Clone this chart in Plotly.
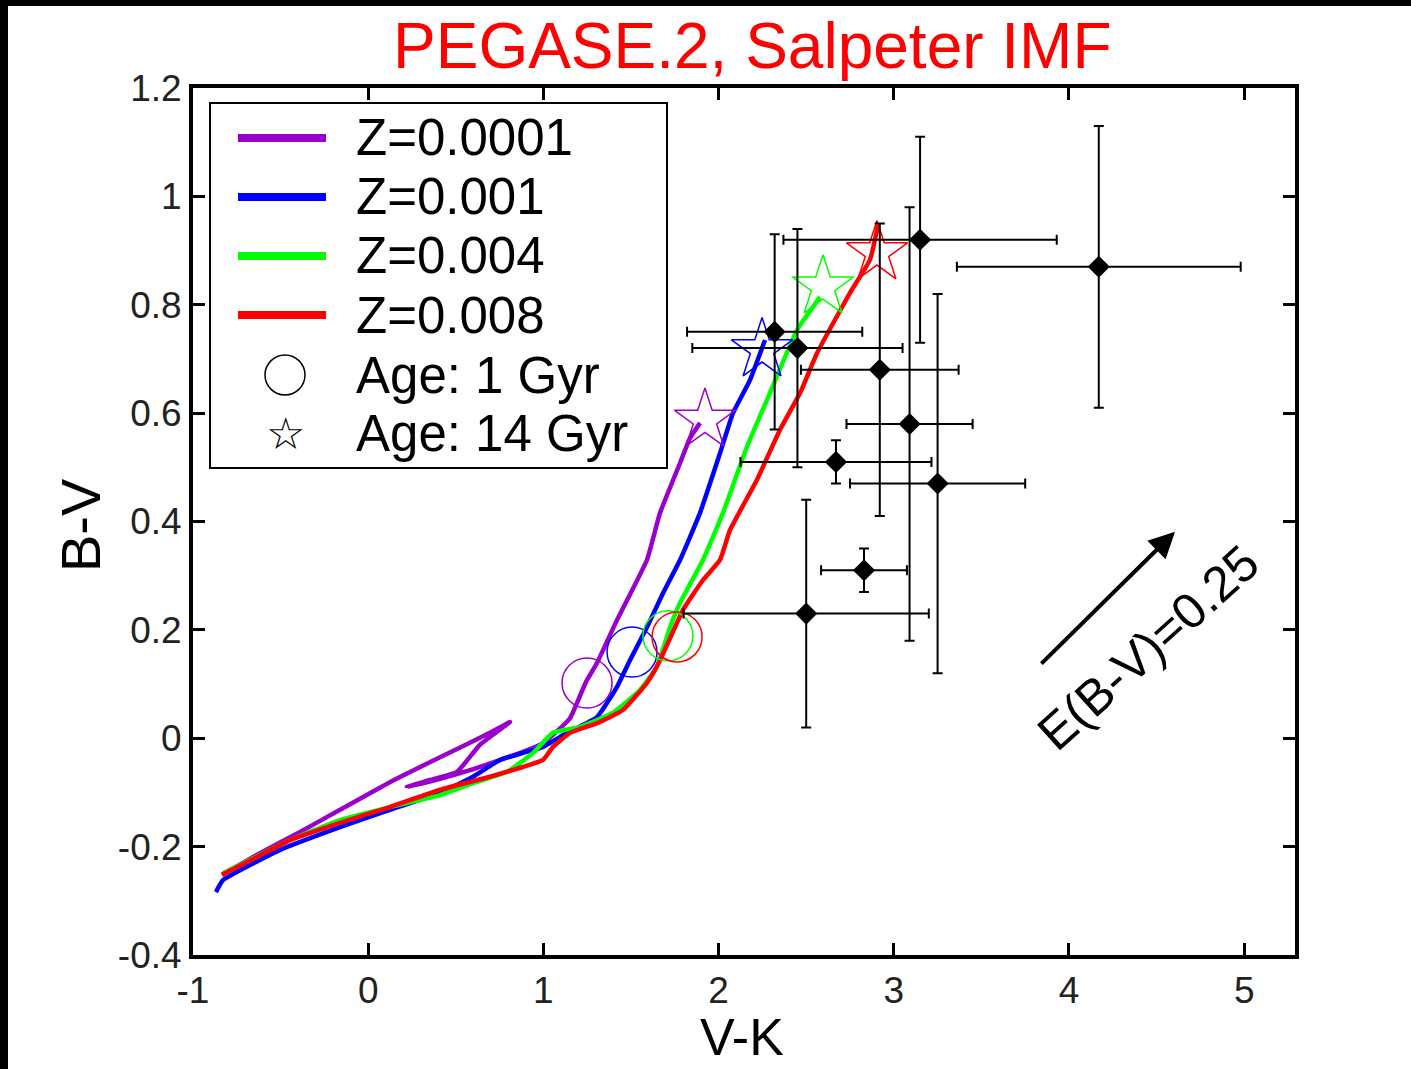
import plotly.graph_objects as go

# ---------------- data ----------------
z0001_vk = [-0.834, -0.618, -0.389, -0.161, 0.124, 0.410, 0.695, 0.809, 0.638, 0.507, 0.353, 0.221,
            0.410, 0.581, 0.884, 0.998, 1.152, 1.243, 1.306, 1.420, 1.591, 1.666, 1.780, 1.837, 1.894]
z0001_bv = [-0.252, -0.212, -0.173, -0.132, -0.081, -0.035, 0.010, 0.030, -0.012, -0.062, -0.077, -0.090,
            -0.075, -0.059, -0.025, -0.009, 0.037, 0.104, 0.139, 0.218, 0.329, 0.416, 0.508, 0.554, 0.582]

z001_vk = [-0.869, -0.829, -0.503, -0.161, 0.124, 0.410, 0.598, 0.752, 0.884, 0.998, 1.135, 1.306,
           1.420, 1.494, 1.591, 1.683, 1.780, 1.894, 2.008, 2.082, 2.179, 2.265]
z001_bv = [-0.284, -0.262, -0.206, -0.164, -0.132, -0.101, -0.071, -0.040, -0.027, -0.016, 0.010, 0.039,
           0.095, 0.144, 0.205, 0.268, 0.329, 0.416, 0.526, 0.600, 0.661, 0.735]

z004_vk = [-0.829, -0.446, -0.161, 0.124, 0.410, 0.598, 0.792, 0.941, 1.055, 1.209, 1.397, 1.551,
           1.648, 1.723, 1.780, 1.911, 2.025, 2.162, 2.276, 2.447, 2.579]
z004_bv = [-0.249, -0.188, -0.151, -0.127, -0.105, -0.083, -0.062, -0.027, 0.010, 0.021, 0.047, 0.089,
           0.132, 0.205, 0.250, 0.329, 0.416, 0.538, 0.624, 0.753, 0.814]

z008_vk = [-0.834, -0.635, -0.446, -0.161, 0.124, 0.410, 0.695, 0.884, 0.998, 1.055, 1.152, 1.306,
           1.454, 1.591, 1.666, 1.797, 1.911, 2.008, 2.065, 2.219, 2.350, 2.465, 2.562, 2.750, 2.864, 2.910]
z008_bv = [-0.252, -0.219, -0.188, -0.156, -0.127, -0.095, -0.071, -0.053, -0.040, -0.016, 0.010, 0.028,
           0.052, 0.102, 0.144, 0.237, 0.292, 0.329, 0.384, 0.477, 0.569, 0.637, 0.711, 0.822, 0.883, 0.947]

series_names = ["Z=0.0001", "Z=0.001", "Z=0.004", "Z=0.008"]
series_colors = ["#9900cc", "#0000ff", "#00ff00", "#ff0000"]

age1_vk = [1.249, 1.506, 1.711, 1.763]
age1_bv = [0.102, 0.159, 0.189, 0.187]
age14_vk = [1.922, 2.248, 2.596, 2.904]
age14_bv = [0.587, 0.717, 0.833, 0.896]

obs_vk = [3.15, 4.17, 2.32, 2.45, 2.92, 3.09, 2.67, 3.25, 2.83, 2.50]
obs_bv = [0.92, 0.87, 0.75, 0.72, 0.68, 0.58, 0.51, 0.47, 0.31, 0.23]
obs_vk_err = [0.78, 0.81, 0.50, 0.60, 0.45, 0.36, 0.545, 0.50, 0.245, 0.70]
obs_bv_err = [0.19, 0.26, 0.18, 0.22, 0.27, 0.40, 0.04, 0.35, 0.04, 0.21]

x_tickvals = [-1, 0, 1, 2, 3, 4, 5]
x_ticktext = ["-1", "0", "1", "2", "3", "4", "5"]
y_tickvals = [-0.4, -0.2, 0, 0.2, 0.4, 0.6, 0.8, 1.0, 1.2]
y_ticktext = ["-0.4", "-0.2", "0", "0.2", "0.4", "0.6", "0.8", "1", "1.2"]

reddening_tail = (3.834, 0.135)
reddening_head = (4.605, 0.381)
reddening_label = "E(B-V)=0.25"

title_text = "PEGASE.2, Salpeter IMF"
legend_age_labels = ["Age: 1 Gyr", "Age: 14 Gyr"]

# ---------------- figure ----------------
FONT = "Liberation Sans, Arial, Helvetica, sans-serif"
W, H = 1411, 1069
L, R, T, B = 193, 116, 88, 114
PW, PH = W - L - R, H - T - B


def px_x(p):
    return (p - L) / PW


def px_y(p):
    return (H - B - p) / PH


fig = go.Figure()

curves = [(z0001_vk, z0001_bv), (z001_vk, z001_bv), (z004_vk, z004_bv), (z008_vk, z008_bv)]
for (xs, ys), name, col in zip(curves, series_names, series_colors):
    fig.add_trace(go.Scatter(x=xs, y=ys, mode="lines", name=name,
                             line=dict(color=col, width=4.5, shape="spline", smoothing=0.4),
                             showlegend=False, hoverinfo="skip"))

fig.add_trace(go.Scatter(x=age1_vk, y=age1_bv, mode="markers", showlegend=False,
                         marker=dict(symbol="circle-open", size=50, color=series_colors,
                                     line=dict(width=1.5, color=series_colors))))
fig.add_trace(go.Scatter(x=age14_vk, y=age14_bv, mode="markers", showlegend=False,
                         marker=dict(symbol="star-open", size=46, color=series_colors,
                                     line=dict(width=1.5, color=series_colors))))

fig.add_trace(go.Scatter(x=obs_vk, y=obs_bv, mode="markers", showlegend=False,
                         marker=dict(symbol="diamond", size=17, color="black"),
                         error_x=dict(type="data", array=obs_vk_err, color="black",
                                      thickness=2, width=5),
                         error_y=dict(type="data", array=obs_bv_err, color="black",
                                      thickness=2, width=5)))

shapes = []
annotations = []

# slide background edges
shapes.append(dict(type="rect", xref="paper", yref="paper", x0=px_x(-5), x1=px_x(8),
                   y0=px_y(H + 5), y1=px_y(-5), fillcolor="black", line=dict(width=0), layer="above"))
shapes.append(dict(type="rect", xref="paper", yref="paper", x0=px_x(-5), x1=px_x(W + 5),
                   y0=px_y(6), y1=px_y(-5), fillcolor="black", line=dict(width=0), layer="above"))

# manual legend
shapes.append(dict(type="rect", xref="paper", yref="paper", x0=px_x(210), x1=px_x(667),
                   y0=px_y(468), y1=px_y(103), fillcolor="white",
                   line=dict(color="black", width=2), layer="above"))
rows = [138, 197, 256, 315, 375, 433]
for i, (name, col) in enumerate(zip(series_names, series_colors)):
    shapes.append(dict(type="line", xref="paper", yref="paper", x0=px_x(238), x1=px_x(326),
                       y0=px_y(rows[i]), y1=px_y(rows[i]), line=dict(color=col, width=8),
                       layer="above"))
    annotations.append(dict(x=px_x(354), y=px_y(rows[i]), xref="paper", yref="paper",
                            text=name, showarrow=False, xanchor="left", yanchor="middle",
                            font=dict(family=FONT, size=51, color="black")))
shapes.append(dict(type="circle", xref="paper", yref="paper", xsizemode="pixel",
                   ysizemode="pixel", xanchor=px_x(285), yanchor=px_y(rows[4]),
                   x0=-20, x1=20, y0=-20, y1=20, line=dict(color="black", width=1.5),
                   layer="above"))
annotations.append(dict(x=px_x(285), y=px_y(rows[5]), xref="paper", yref="paper",
                        text="☆", showarrow=False, xanchor="center", yanchor="middle",
                        font=dict(family="DejaVu Sans", size=44, color="black")))
for j, lab in enumerate(legend_age_labels):
    annotations.append(dict(x=px_x(354), y=px_y(rows[4 + j]), xref="paper", yref="paper",
                            text=lab, showarrow=False, xanchor="left", yanchor="middle",
                            font=dict(family=FONT, size=51, color="black")))

# title and axis titles
annotations.append(dict(x=px_x(752), y=px_y(46), xref="paper", yref="paper", text=title_text,
                        showarrow=False, xanchor="center", yanchor="middle",
                        font=dict(family=FONT, size=64, color="#ff0000")))
annotations.append(dict(x=px_x(80), y=px_y(525), xref="paper", yref="paper", text="B-V",
                        showarrow=False, textangle=-90, xanchor="center", yanchor="middle",
                        font=dict(family=FONT, size=56, color="black")))
annotations.append(dict(x=px_x(742), y=px_y(1068), xref="paper", yref="paper", text="V-K",
                        showarrow=False, xanchor="center", yanchor="bottom",
                        font=dict(family=FONT, size=52, color="black")))

# reddening vector
annotations.append(dict(x=reddening_head[0], y=reddening_head[1], ax=reddening_tail[0],
                        ay=reddening_tail[1], xref="x", yref="y", axref="x", ayref="y",
                        text="", showarrow=True, arrowhead=2, arrowsize=1.3, arrowwidth=4,
                        arrowcolor="black"))
annotations.append(dict(x=4.451, y=0.167, xref="x", yref="y", text=reddening_label,
                        showarrow=False, textangle=-42, xanchor="center", yanchor="middle",
                        font=dict(family=FONT, size=50, color="black")))

axis_common = dict(showline=True, linewidth=4, linecolor="black", mirror="ticks",
                   ticks="inside", ticklen=12, tickwidth=3, tickcolor="black",
                   showgrid=False, zeroline=False,
                   tickfont=dict(family=FONT, size=37, color="#222222"))

fig.update_layout(
    width=W, height=H,
    margin=dict(l=L, r=R, t=T, b=B, pad=0),
    paper_bgcolor="white", plot_bgcolor="white",
    showlegend=False,
    xaxis=dict(range=[-1, 5.29], tickvals=x_tickvals, ticktext=x_ticktext, **axis_common),
    yaxis=dict(range=[-0.4, 1.2], tickvals=y_tickvals, ticktext=y_ticktext, **axis_common),
    shapes=shapes,
    annotations=annotations,
)

fig.write_html("out.html", config={"displayModeBar": False},
               post_script="document.body.style.margin='0px';document.body.style.overflow='hidden';")
